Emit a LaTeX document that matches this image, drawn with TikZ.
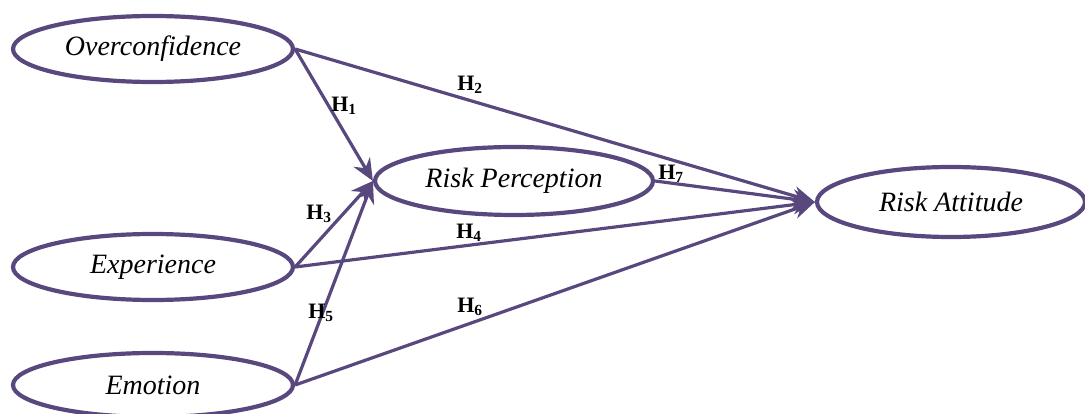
\documentclass[tikz,border=0pt]{standalone}
\usepackage{fontspec}
\setmainfont{Liberation Serif}
\usetikzlibrary{shapes.geometric,arrows.meta}
\definecolor{pur}{RGB}{88,72,125}
\tikzset{
  construct/.style={draw=pur, line width=4.2pt, ellipse, inner sep=0pt, fill=white,
    font=\fontsize{28}{32}\selectfont\itshape},
  link/.style={draw=pur, line width=3.2pt, -{Stealth[length=22pt,width=19pt]}},
  hlab/.style={font=\fontsize{22}{26}\selectfont\bfseries, inner sep=0pt}
}
\begin{document}
\begin{tikzpicture}[x=1pt,y=-1pt]
\useasboundingbox (0,0) rectangle (1085,414);
\node[construct, minimum width=280pt, minimum height=66pt] (oc) at (153,49) {Overconfidence};
\node[construct, minimum width=280pt, minimum height=66pt] (ex) at (153,267) {Experience};
\node[construct, minimum width=280pt, minimum height=64pt] (em) at (153,385) {Emotion};
\node[construct, minimum width=278pt, minimum height=68pt] (rp) at (514,181) {Risk Perception};
\node[construct, minimum width=268pt, minimum height=70pt] (ra) at (951,202) {Risk Attitude};
\draw[link] (oc.east) -- (rp.west);
\draw[link] (oc.east) -- (ra.west);
\draw[link] (ex.east) -- (rp.west);
\draw[link] (ex.east) -- (ra.west);
\draw[link] (em.east) -- (rp.west);
\draw[link] (em.east) -- (ra.west);
\draw[link] (rp.east) -- (ra.west);
\node[hlab] (h1) at (344,106) {H\textsubscript{1}};
\node[hlab] (h2) at (470,85) {H\textsubscript{2}};
\node[hlab] (h3) at (319,214) {H\textsubscript{3}};
\node[hlab] (h4) at (469,233) {H\textsubscript{4}};
\node[hlab] (h5) at (321,313) {H\textsubscript{5}};
\node[hlab] (h6) at (470,307) {H\textsubscript{6}};
\node[hlab] (h7) at (671,174) {H\textsubscript{7}};
\end{tikzpicture}
\end{document}
